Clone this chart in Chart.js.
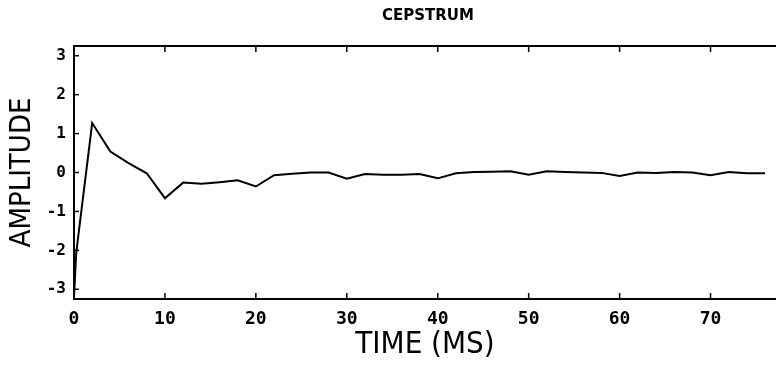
<!DOCTYPE html>
<html>
<head>
<meta charset="utf-8">
<script src="https://cdn.jsdelivr.net/npm/chart.js@4/dist/chart.umd.min.js"></script>
<style>
  html, body { margin: 0; padding: 0; background: #fff; }
  #wrap { width: 776px; height: 369px; }
</style>
</head>
<body>
<div id="wrap"><canvas id="chart_cepstrum" width="776" height="369"></canvas></div>
<script>
// data (time in ms, amplitude)
const timeMs = [0, 0.25, 2, 4, 6, 8, 10, 12, 14, 16, 18, 20, 22, 24, 26, 28, 30, 32, 34, 36, 38,
                40, 42, 44, 46, 48, 50, 52, 54, 56, 58, 60, 62, 64, 66, 68, 70, 72, 74, 76];
const amplitude = [-3.2, -2.05, 1.27, 0.54, 0.24, -0.02, -0.66, -0.26, -0.29, -0.25, -0.2, -0.36,
                   -0.07, -0.03, 0, 0, -0.16, -0.04, -0.06, -0.06, -0.04,
                   -0.15, -0.02, 0.01, 0.02, 0.03, -0.06, 0.03, 0.01, 0, -0.01, -0.09, 0, -0.01, 0.01, 0,
                   -0.07, 0.01, -0.02, -0.02];
const xTicks = [0, 10, 20, 30, 40, 50, 60, 70];
const yTicks = [-3, -2, -1, 0, 1, 2, 3];

const chartTitle = "CEPSTRUM";
const xTitle = "TIME (MS)";
const yTitle = "AMPLITUDE";

const points = timeMs.map((t, i) => ({ x: t, y: amplitude[i] }));

// frame top line, inward ticks and the title
const framePlugin = {
    id: "frame",
    afterDraw(chart) {
        const ctx = chart.ctx;
        const a = chart.chartArea;
        const xs = chart.scales.x, ys = chart.scales.y;
        ctx.save();
        ctx.strokeStyle = "#000";
        ctx.lineWidth = 2;
        ctx.beginPath();
        ctx.moveTo(a.left, a.top);
        ctx.lineTo(a.right, a.top);
        ctx.stroke();
        ctx.lineWidth = 1.5;
        xTicks.forEach(v => {
            const px = xs.getPixelForValue(v);
            ctx.beginPath();
            ctx.moveTo(px, a.top); ctx.lineTo(px, a.top + 6);
            ctx.moveTo(px, a.bottom); ctx.lineTo(px, a.bottom - 6);
            ctx.stroke();
        });
        yTicks.forEach(v => {
            const py = ys.getPixelForValue(v);
            ctx.beginPath();
            ctx.moveTo(a.left, py); ctx.lineTo(a.left + 5, py);
            ctx.stroke();
        });
        ctx.fillStyle = "#000";
        ctx.font = "bold 15px 'DejaVu Sans'";
        ctx.textAlign = "center";
        ctx.textBaseline = "middle";
        ctx.fillText(chartTitle, (a.left + a.right) / 2 + 3, 16);
        ctx.restore();
    }
};

const xTickFont = { family: "'DejaVu Sans Mono'", size: 18, weight: "bold" };
const yTickFont = { family: "'DejaVu Sans Mono'", size: 16, weight: "bold" };
const yTitleFont = { family: "'Liberation Sans Narrow', 'DejaVu Sans Condensed', sans-serif", size: 29 };
const xTitleFont = { family: "'Liberation Sans Narrow', 'DejaVu Sans Condensed', sans-serif", size: 31 };

new Chart(document.getElementById("chart_cepstrum").getContext("2d"), {
    type: "line",
    data: {
        datasets: [{
            data: points,
            borderColor: "#000",
            borderWidth: 2,
            pointRadius: 0,
            tension: 0,
            fill: false
        }]
    },
    options: {
        responsive: false,
        animation: false,
        layout: { padding: { top: 46, right: 0, left: 0, bottom: 0 } },
        plugins: { legend: { display: false }, title: { display: false }, tooltip: { enabled: false } },
        scales: {
            x: {
                type: "linear",
                min: 0,
                max: 77.2,
                afterFit: s => { s.height = 70; },
                afterBuildTicks: s => { s.ticks = xTicks.map(v => ({ value: v })); },
                grid: { display: false, drawTicks: false },
                border: { display: true, color: "#000", width: 2 },
                ticks: { color: "#000", font: xTickFont, padding: 10, maxRotation: 0 },
                title: { display: true, text: xTitle, color: "#000", font: xTitleFont, padding: { top: 4, bottom: 5 } }
            },
            y: {
                min: -3.25,
                max: 3.25,
                afterFit: s => { s.width = 74; },
                afterBuildTicks: s => { s.ticks = yTicks.map(v => ({ value: v })); },
                grid: { display: false, drawTicks: false },
                border: { display: true, color: "#000", width: 2 },
                ticks: { color: "#000", font: yTickFont, padding: 8 },
                title: { display: true, text: yTitle, color: "#000", font: yTitleFont, padding: { top: 5, bottom: 5 } }
            }
        }
    },
    plugins: [framePlugin]
});
</script>
</body>
</html>
